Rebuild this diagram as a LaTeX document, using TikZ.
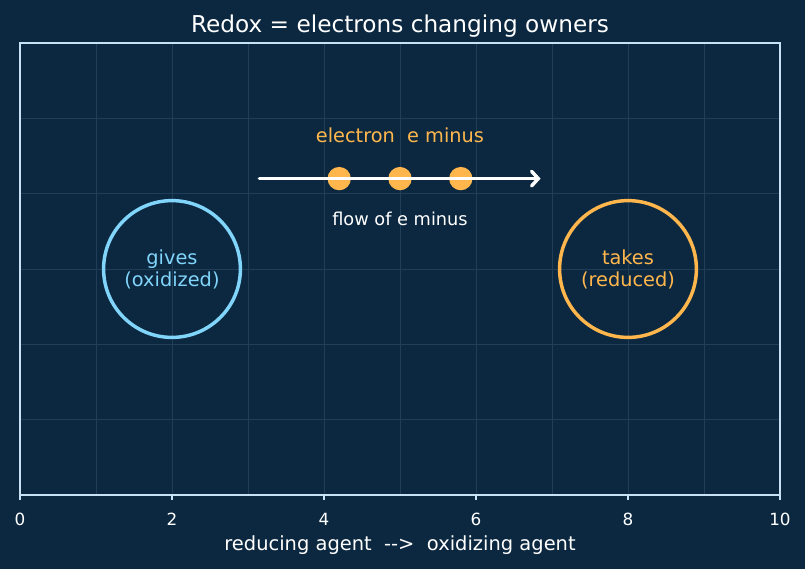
\documentclass[tikz,border=0pt]{standalone}
\usepackage{fontspec}
\setmainfont{DejaVu Sans}
\usetikzlibrary{arrows.meta, positioning}
\definecolor{bgnavy}{RGB}{11,40,64}
\definecolor{gridnavy}{RGB}{32,62,88}
\definecolor{spinelight}{RGB}{200,225,245}
\definecolor{givesblue}{RGB}{129,212,250}
\definecolor{takesorange}{RGB}{255,183,77}

\begin{document}
\begin{tikzpicture}[x=57pt, y=56.5pt,
  agent/.style={circle, draw, line width=2.6pt, minimum size=102.6pt, inner sep=0pt, align=center, font=\fontsize{14.5}{16.5}\selectfont},
  electron/.style={circle, fill=takesorange, inner sep=0pt, minimum size=17.5pt},
  ticklabel/.style={anchor=base, inner sep=0pt, text=white, font=\fontsize{12.6}{14}\selectfont}
]
  \useasboundingbox (-0.263,-0.982) rectangle (10.329,6.571);
  \fill[bgnavy] (-0.263,-0.982) rectangle (10.329,6.571);
  \draw[gridnavy, line width=0.6pt, step=1] (0,0) grid (10,6);
  \draw[spinelight, line width=1.3pt] (0,0) rectangle (10,6);
  \foreach \x in {0,2,...,10} {
    \draw[spinelight, line width=1.1pt] (\x,0) -- ++(0,-3.8pt);
    \node[ticklabel] (tick\x) at (\x,-0.41) {\x};
  }

  \node[anchor=base, text=white, font=\fontsize{17.4}{20}\selectfont] (title) at (5,6.146) {Redox = electrons changing owners};
  \node[anchor=base, text=white, font=\fontsize{14.6}{17}\selectfont] (xlabel) at (5,-0.743) {reducing agent\ \ -{}->\ \ oxidizing agent};

  \node[agent, draw=givesblue, text=givesblue] (gives) at (2,3) {gives\\(oxidized)};
  \node[agent, draw=takesorange, text=takesorange] (takes) at (8,3) {takes\\(reduced)};

  \foreach \ex [count=\i] in {4.2,5.0,5.8}
    \node[electron] (e\i) at (\ex,4.2) {};
  \coordinate (flowtail) at (3.15,4.2);
  \coordinate (flowhead) at (6.85,4.2);
  \draw[white, line width=2.6pt, line cap=round, -{Straight Barb[length=5pt, width=11pt, line cap=round]}] (flowtail) -- (flowhead);

  \node[anchor=base, text=takesorange, font=\fontsize{14.5}{17}\selectfont] (elabel) at (5,4.682) {electron\ \ e minus};
  \node[anchor=base, text=white, font=\fontsize{13.3}{16}\selectfont] (flowlabel) at (5,3.584) {flow of e minus};
\end{tikzpicture}
\end{document}
